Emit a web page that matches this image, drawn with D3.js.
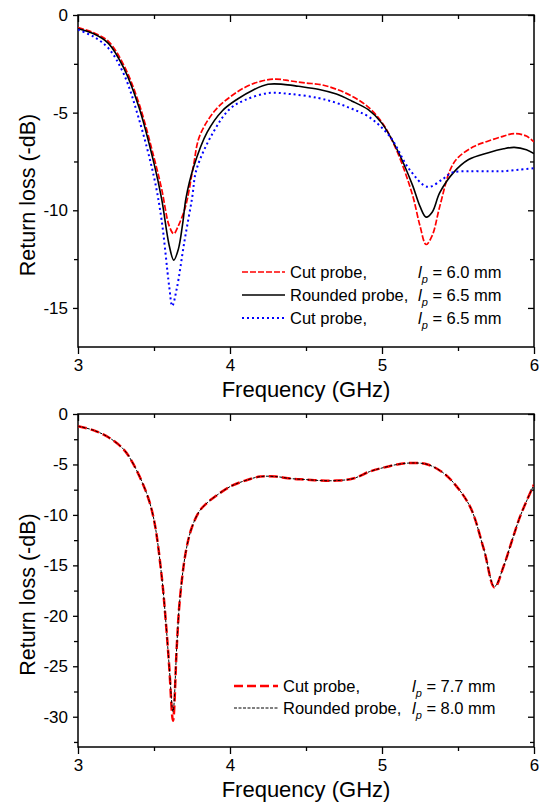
<!DOCTYPE html>
<html>
<head>
<meta charset="utf-8">
<script src="https://cdn.jsdelivr.net/npm/d3@7"></script>
<style>
  body { margin: 0; background: #fff; }
  svg { display: block; font-family: "Liberation Sans", Arial, sans-serif; }
</style>
</head>
<body>
<svg id="chart" width="540" height="802"></svg>
<script>
// ---- top panel: lp sweep ----
const topFreqCut60 = [3.0, 3.1, 3.2, 3.3, 3.4, 3.5, 3.55, 3.6, 3.63, 3.66, 3.7, 3.72, 3.76, 3.8, 3.9, 4.0, 4.1, 4.2, 4.3, 4.4, 4.5, 4.6, 4.7, 4.8, 4.9, 5.0, 5.1, 5.2, 5.25, 5.29, 5.33, 5.38, 5.45, 5.5, 5.6, 5.7, 5.8, 5.87, 5.95, 6.0];
const topCut60 = [-0.65, -0.9, -1.35, -2.55, -4.5, -7.3, -8.9, -10.8, -11.2, -10.8, -10.0, -9.4, -7.7, -6.2, -4.9, -4.2, -3.7, -3.4, -3.28, -3.38, -3.48, -3.57, -3.8, -4.15, -4.65, -5.5, -7.0, -9.2, -10.8, -11.75, -11.3, -9.8, -7.9, -7.3, -6.75, -6.45, -6.2, -6.07, -6.2, -6.5];

const topFreqRounded65 = [3.0, 3.1, 3.2, 3.3, 3.4, 3.5, 3.55, 3.6, 3.63, 3.66, 3.69, 3.71, 3.76, 3.85, 3.95, 4.05, 4.15, 4.25, 4.35, 4.45, 4.58, 4.7, 4.8, 4.91, 5.0, 5.1, 5.2, 5.25, 5.29, 5.33, 5.38, 5.47, 5.57, 5.7, 5.8, 5.87, 5.95, 6.0];
const topRounded65 = [-0.7, -0.95, -1.45, -2.7, -4.7, -7.6, -9.4, -11.8, -12.55, -12.0, -10.6, -9.4, -7.8, -6.0, -4.9, -4.3, -3.85, -3.55, -3.55, -3.65, -3.8, -4.05, -4.4, -4.85, -5.55, -6.9, -8.7, -9.8, -10.35, -10.1, -9.1, -8.07, -7.4, -7.05, -6.85, -6.78, -6.9, -7.1];

const topFreqCut65 = [3.0, 3.1, 3.2, 3.3, 3.4, 3.5, 3.55, 3.6, 3.62, 3.65, 3.7, 3.75, 3.78, 3.89, 4.0, 4.1, 4.25, 4.4, 4.58, 4.7, 4.8, 4.91, 5.05, 5.18, 5.3, 5.4, 5.46, 5.57, 5.7, 5.79, 5.9, 6.0];
const topCut65 = [-0.75, -1.1, -1.7, -3.0, -5.3, -8.3, -10.5, -13.9, -14.9, -14.0, -11.6, -9.4, -7.9, -6.0, -4.8, -4.35, -4.0, -4.05, -4.25, -4.5, -4.8, -5.2, -6.2, -7.9, -8.8, -8.4, -8.07, -8.0, -8.0, -8.0, -7.92, -7.85];

// ---- bottom panel: matched probes ----
const botFreqCut77 = [3.0, 3.1, 3.2, 3.3, 3.36, 3.45, 3.5, 3.55, 3.58, 3.6, 3.625, 3.65, 3.67, 3.71, 3.75, 3.8, 3.85, 3.9, 4.0, 4.1, 4.2, 4.3, 4.4, 4.5, 4.6, 4.7, 4.81, 4.92, 5.0, 5.1, 5.2, 5.3, 5.4, 5.47, 5.58, 5.67, 5.74, 5.8, 5.85, 5.91, 6.0];
const botCut77 = [-1.2, -1.6, -2.3, -3.5, -4.85, -7.8, -10.5, -16.0, -21.0, -25.0, -30.4, -23.0, -18.4, -13.6, -11.2, -9.6, -8.8, -8.2, -7.2, -6.6, -6.2, -6.2, -6.4, -6.5, -6.6, -6.6, -6.4, -5.7, -5.35, -5.0, -4.85, -5.0, -5.8, -6.8, -9.2, -13.4, -17.2, -15.1, -12.8, -10.1, -7.0];

const botFreqRounded80 = [3.0, 3.1, 3.2, 3.3, 3.36, 3.45, 3.5, 3.55, 3.58, 3.6, 3.625, 3.65, 3.67, 3.71, 3.75, 3.8, 3.85, 3.9, 4.0, 4.1, 4.2, 4.3, 4.4, 4.5, 4.6, 4.7, 4.81, 4.92, 5.0, 5.1, 5.2, 5.3, 5.4, 5.47, 5.58, 5.67, 5.74, 5.8, 5.85, 5.91, 6.0];
const botRounded80 = [-1.2, -1.6, -2.3, -3.5, -4.85, -7.8, -10.5, -16.0, -21.0, -25.0, -29.5, -23.0, -18.4, -13.6, -11.2, -9.6, -8.8, -8.2, -7.2, -6.6, -6.2, -6.2, -6.4, -6.5, -6.6, -6.6, -6.4, -5.7, -5.35, -5.0, -4.85, -5.0, -5.8, -6.8, -9.2, -13.4, -17.1, -15.1, -12.8, -10.1, -7.0];

const xTicks = [3, 4, 5, 6];
const xMinor = [3.5, 4.5, 5.5];

const svg = d3.select("#chart");
const x0 = 78, x1 = 534;

let zip = (fs, vs) => fs.map((f, i) => ({ f, v: vs[i] }));

let drawPanel = (top, bottom, yMin, yTicks, yMinor, series, legend) => {
    const x = d3.scaleLinear().domain([3, 6]).range([x0, x1]);
    const y = d3.scaleLinear().domain([yMin, 0]).range([bottom, top]);
    const g = svg.append("g");

    // bottom axis, ticks outward
    g.append("g").attr("transform", `translate(0,${bottom})`)
        .call(d3.axisBottom(x).tickValues(xTicks).tickSize(7).tickPadding(5).tickFormat(d3.format("d")));
    g.append("g").attr("transform", `translate(0,${bottom})`)
        .call(d3.axisBottom(x).tickValues(xMinor).tickSize(4).tickFormat(""));
    // top mirror, ticks inward
    g.append("g").attr("transform", `translate(0,${top})`)
        .call(d3.axisBottom(x).tickValues(xTicks).tickSize(7).tickFormat(""));
    g.append("g").attr("transform", `translate(0,${top})`)
        .call(d3.axisBottom(x).tickValues(xMinor).tickSize(4).tickFormat(""));
    // left axis outward
    g.append("g").attr("transform", `translate(${x0},0)`)
        .call(d3.axisLeft(y).tickValues(yTicks).tickSize(5).tickPadding(5).tickFormat(d => d === 0 ? "0" : "-" + Math.abs(d)));
    g.append("g").attr("transform", `translate(${x0},0)`)
        .call(d3.axisLeft(y).tickValues(yMinor).tickSize(4).tickFormat(""));
    // right mirror inward
    g.append("g").attr("transform", `translate(${x1},0)`)
        .call(d3.axisLeft(y).tickValues(yTicks).tickSize(6).tickFormat(""));
    g.append("g").attr("transform", `translate(${x1},0)`)
        .call(d3.axisLeft(y).tickValues(yMinor).tickSize(4).tickFormat(""));

    g.selectAll(".domain").remove();
    g.selectAll(".tick line").attr("stroke", "#000").attr("stroke-width", 1.3);
    g.selectAll(".tick text").attr("font-size", 17).attr("fill", "#000")
        .attr("font-family", "'Liberation Sans', Arial, sans-serif");

    g.append("rect")
        .attr("x", x0).attr("y", top).attr("width", x1 - x0).attr("height", bottom - top)
        .attr("fill", "none").attr("stroke", "#000").attr("stroke-width", 1.5);

    const clipId = "clip" + top;
    g.append("clipPath").attr("id", clipId).append("rect")
        .attr("x", x0).attr("y", top).attr("width", x1 - x0).attr("height", bottom - top);

    const line = d3.line().x(d => x(d.f)).y(d => y(d.v)).curve(d3.curveCatmullRom.alpha(0.5));

    series.forEach(s => {
        g.append("path")
            .datum(s.data)
            .attr("clip-path", `url(#${clipId})`)
            .attr("d", line)
            .attr("fill", "none")
            .attr("stroke", s.color)
            .attr("stroke-width", s.width)
            .attr("stroke-dasharray", s.dash);
    });

    // axis titles
    g.append("text")
        .attr("x", (x0 + x1) / 2).attr("y", bottom + 50)
        .attr("text-anchor", "middle").attr("font-size", 22)
        .text("Frequency (GHz)");
    g.append("text")
        .attr("transform", `translate(35,${(top + bottom) / 2 + 14}) rotate(-90)`)
        .attr("text-anchor", "middle").attr("font-size", 21.5)
        .text("Return loss (-dB)");

    // legend
    legend.rows.forEach((r, i) => {
        const s = series[r.idx];
        const ly = legend.y + i * legend.dy;
        g.append("line")
            .attr("x1", legend.lx0).attr("x2", legend.lx1).attr("y1", ly).attr("y2", ly)
            .attr("stroke", s.color).attr("stroke-width", s.width).attr("stroke-dasharray", s.dash);
        g.append("text").attr("x", legend.tx).attr("y", ly + 6).attr("font-size", 16.5).text(r.label);
        const t = g.append("text").attr("x", legend.px).attr("y", ly + 6).attr("font-size", 16.5);
        t.append("tspan").attr("font-style", "italic").text("l");
        t.append("tspan").attr("font-style", "italic").attr("font-size", 11).attr("dy", 5).text("p");
        t.append("tspan").attr("dy", -5).text(" = " + r.value);
    });
};

drawPanel(15, 347, -17, [0, -5, -10, -15], [-2.5, -7.5, -12.5],
    [
        { data: zip(topFreqCut60, topCut60), color: "#ff0000", width: 1.7, dash: "6,2" },
        { data: zip(topFreqRounded65, topRounded65), color: "#000000", width: 1.6, dash: null },
        { data: zip(topFreqCut65, topCut65), color: "#0000ff", width: 2, dash: "2,3" }
    ],
    {
        y: 272, dy: 23, lx0: 242, lx1: 285, tx: 290, px: 418,
        rows: [
            { idx: 0, label: "Cut probe,", value: "6.0 mm" },
            { idx: 1, label: "Rounded probe,", value: "6.5 mm" },
            { idx: 2, label: "Cut probe,", value: "6.5 mm" }
        ]
    });

drawPanel(414, 747, -33, [0, -5, -10, -15, -20, -25, -30], [-2.5, -7.5, -12.5, -17.5, -22.5, -27.5, -32.5],
    [
        { data: zip(botFreqCut77, botCut77), color: "#ff0000", width: 2.5, dash: "9,4" },
        { data: zip(botFreqRounded80, botRounded80), color: "#000000", width: 1, dash: "3,1.5" }
    ],
    {
        y: 686, dy: 22, lx0: 234, lx1: 278, tx: 283, px: 412,
        rows: [
            { idx: 0, label: "Cut probe,", value: "7.7 mm" },
            { idx: 1, label: "Rounded probe,", value: "8.0 mm" }
        ]
    });
</script>
</body>
</html>
